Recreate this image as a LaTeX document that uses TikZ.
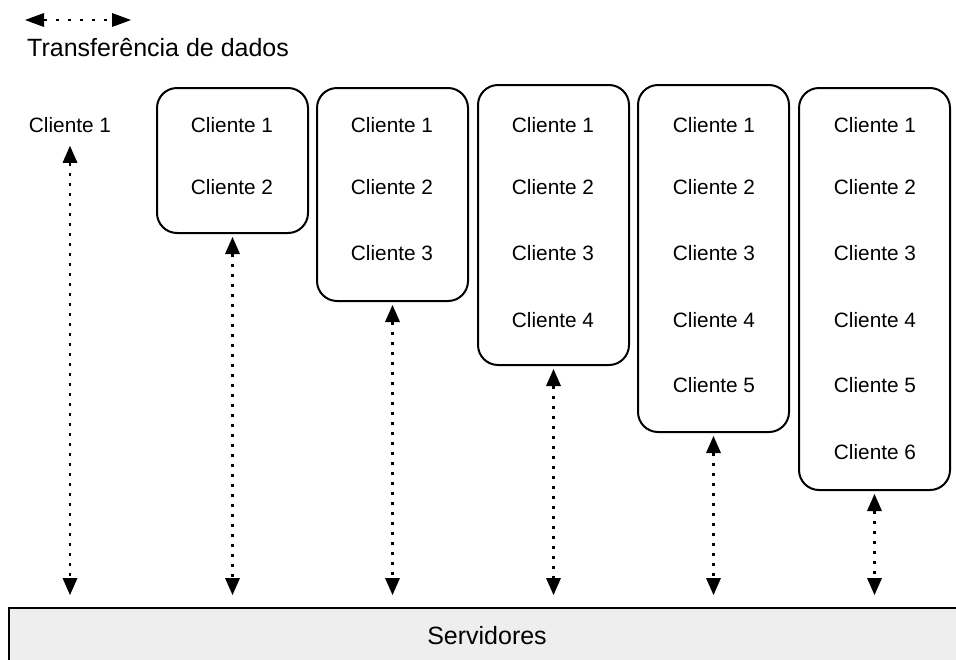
\documentclass[tikz,border=0pt]{standalone}
\usepackage{fontspec}
\setmainfont{Liberation Sans}
\usetikzlibrary{arrows.meta}
\begin{document}
\begin{tikzpicture}[x=1pt,y=-1pt,
  cli/.style={inner sep=0pt,font=\fontsize{20.8}{25}\selectfont},
  group/.style={draw,line width=2pt,rounded corners=20pt,inner sep=0pt},
  xfer/.style={line width=2.8pt,dash pattern=on 2.8pt off 7.2pt,
    {Triangle[width=15pt,length=17pt,line width=0pt]}-{Triangle[width=15pt,length=17pt,line width=0pt]}},
  legx/.style={line width=2.8pt,dash pattern=on 2.8pt off 9.2pt,
    {Triangle[width=14pt,length=19pt,line width=0pt]}-{Triangle[width=14pt,length=19pt,line width=0pt]}},
  big/.style={font=\fontsize{25}{30}\selectfont}]
\useasboundingbox (0,0) rectangle (956,659);
% legend
\coordinate (la) at (25,20);
\coordinate (lb) at (131,20);
\draw[legx] (la) -- (lb);
\node[big,inner sep=0pt,anchor=base west] (leg) at (27,56) {Transferência de dados};
% servers
\node[draw,line width=2pt,fill={rgb,255:red,238;green,238;blue,238},minimum width=958pt,minimum height=56pt,big] (srv) at (488,636) {};
\node[big,inner sep=0pt] (srvt) at (487,636) {Servidores};
% column 0
\node[cli] (c0) at (70,125) {Cliente 1};
% boxes
\node[group,minimum width=151pt,minimum height=145pt] (b1) at (232.5,160.5) {};
\node[group,minimum width=151pt,minimum height=213pt] (b2) at (392.5,194.5) {};
\node[group,minimum width=151pt,minimum height=280pt] (b3) at (553.5,225) {};
\node[group,minimum width=151pt,minimum height=347pt] (b4) at (713.5,258.5) {};
\node[group,minimum width=151pt,minimum height=402pt] (b5) at (874.5,289) {};
% texts
\foreach \r/\y in {1/125,2/187}{\node[cli] (b1t\r) at (232,\y) {Cliente \r};}
\foreach \r/\y in {1/125,2/187,3/253}{\node[cli] (b2t\r) at (392,\y) {Cliente \r};}
\foreach \r/\y in {1/125,2/187,3/253,4/320}{\node[cli] (b3t\r) at (553,\y) {Cliente \r};}
\foreach \r/\y in {1/125,2/187,3/253,4/320,5/385}{\node[cli] (b4t\r) at (714,\y) {Cliente \r};}
\foreach \r/\y in {1/125,2/187,3/253,4/320,5/385,6/452}{\node[cli] (b5t\r) at (875,\y) {Cliente \r};}
% arrows
\draw[xfer,shorten <=13pt,shorten >=12pt] (c0.south) -- (c0.south |- srv.north);
\foreach \b in {b1,b2,b3,b4,b5}{
  \draw[xfer,shorten <=3pt,shorten >=12pt] (\b.south) -- (\b.south |- srv.north);
}
\end{tikzpicture}
\end{document}
